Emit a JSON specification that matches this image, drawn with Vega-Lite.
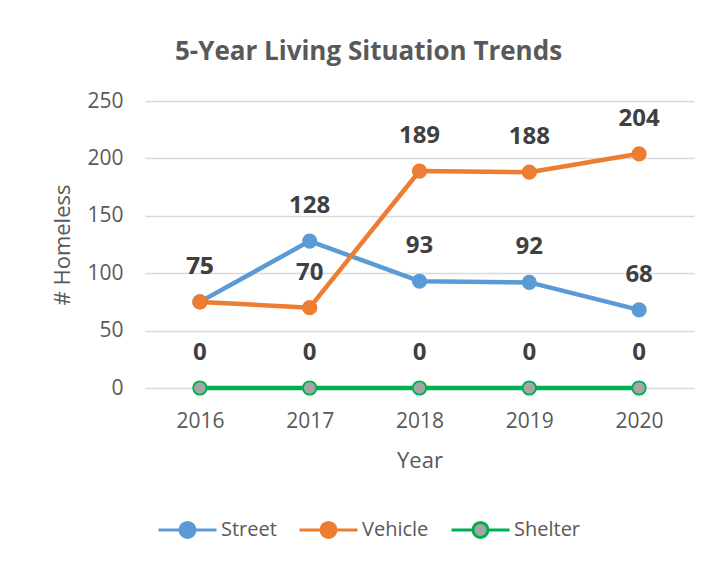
{
  "$schema": "https://vega.github.io/schema/vega-lite/v6.json",
  "width": 549,
  "height": 287,
  "autosize": {"type": "none"},
  "padding": {"left": 145, "top": 101, "right": 26, "bottom": 175},
  "background": "white",
  "title": {
    "text": "5-Year Living Situation Trends",
    "font": "Open Sans",
    "fontSize": 26,
    "fontWeight": "bold",
    "color": "#595959",
    "dx": -51,
    "offset": 25
  },
  "data": {
    "values": [
      {"year": "2016", "series": "Street", "value": 75},
      {"year": "2017", "series": "Street", "value": 128},
      {"year": "2018", "series": "Street", "value": 93},
      {"year": "2019", "series": "Street", "value": 92},
      {"year": "2020", "series": "Street", "value": 68},
      {"year": "2016", "series": "Vehicle", "value": 75},
      {"year": "2017", "series": "Vehicle", "value": 70},
      {"year": "2018", "series": "Vehicle", "value": 189},
      {"year": "2019", "series": "Vehicle", "value": 188},
      {"year": "2020", "series": "Vehicle", "value": 204},
      {"year": "2016", "series": "Shelter", "value": 0},
      {"year": "2017", "series": "Shelter", "value": 0},
      {"year": "2018", "series": "Shelter", "value": 0},
      {"year": "2019", "series": "Shelter", "value": 0},
      {"year": "2020", "series": "Shelter", "value": 0}
    ]
  },
  "encoding": {
    "x": {
      "field": "year",
      "type": "ordinal",
      "scale": {"type": "point", "padding": 0.5},
      "axis": {
        "title": "Year",
        "labelAngle": 0,
        "ticks": false,
        "domain": false,
        "grid": false,
        "labelPadding": 22,
        "titlePadding": 19
      }
    },
    "y": {
      "field": "value",
      "type": "quantitative",
      "scale": {"domain": [0, 250], "nice": false},
      "axis": {
        "title": "# Homeless",
        "values": [0, 50, 100, 150, 200, 250],
        "ticks": false,
        "domain": false,
        "grid": true,
        "gridColor": "#D9D9D9",
        "gridWidth": 1.5,
        "labelPadding": 22,
        "titlePadding": 12
      }
    }
  },
  "layer": [
    {
      "mark": {"type": "line", "strokeWidth": 4.5, "strokeCap": "round", "strokeJoin": "round"},
      "encoding": {
        "stroke": {
          "field": "series",
          "type": "nominal",
          "sort": null,
          "scale": {"domain": ["Street", "Vehicle", "Shelter"], "range": ["#5B9BD5", "#ED7D31", "#00B050"]},
          "legend": {"title": null}
        }
      }
    },
    {
      "mark": {"type": "point", "shape": "circle", "filled": true, "size": 180, "strokeWidth": 1.8, "opacity": 1},
      "encoding": {
        "stroke": {
          "field": "series",
          "type": "nominal",
          "sort": null,
          "scale": {"domain": ["Street", "Vehicle", "Shelter"], "range": ["#5B9BD5", "#ED7D31", "#00B050"]},
          "legend": {"title": null}
        },
        "fill": {
          "field": "series",
          "type": "nominal",
          "sort": null,
          "scale": {"domain": ["Street", "Vehicle", "Shelter"], "range": ["#5B9BD5", "#ED7D31", "#A5A5A5"]},
          "legend": {"title": null}
        }
      }
    },
    {
      "mark": {"type": "text", "dy": -35, "baseline": "middle", "font": "Open Sans", "fontSize": 24, "fontWeight": "bold", "color": "#404040"},
      "encoding": {
        "text": {"field": "value", "type": "quantitative"}
      }
    }
  ],
  "config": {
    "view": {"stroke": null},
    "font": "Open Sans",
    "axis": {
      "labelFont": "Open Sans",
      "labelFontSize": 21,
      "labelColor": "#595959",
      "titleFont": "Open Sans",
      "titleFontSize": 22,
      "titleFontWeight": "normal",
      "titleColor": "#595959"
    },
    "legend": {
      "orient": "none",
      "legendX": 12,
      "legendY": 398,
      "direction": "horizontal",
      "padding": 0,
      "labelFont": "Open Sans",
      "labelFontSize": 20,
      "labelColor": "#595959",
      "labelOffset": 3,
      "columnPadding": 16,
      "symbolType": "M-1,0H-0.26M0.26,0H1M-0.26,0A0.26,0.26,0,1,0,0.26,0A0.26,0.26,0,1,0,-0.26,0Z",
      "symbolSize": 3364,
      "symbolStrokeWidth": 3,
      "symbolOpacity": 1
    }
  }
}
